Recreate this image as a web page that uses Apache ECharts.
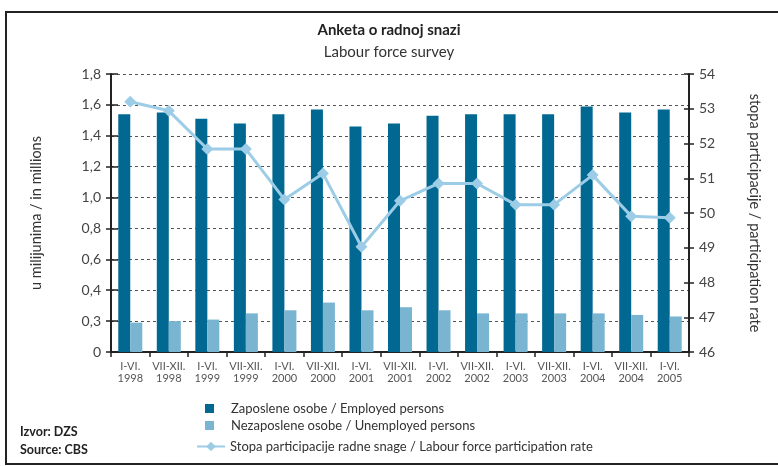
<!DOCTYPE html>
<html>
<head>
<meta charset="utf-8">
<script src="https://cdn.jsdelivr.net/npm/echarts@6/dist/echarts.min.js"></script>
<style>html,body{margin:0;padding:0;background:#fff}#c{width:778px;height:466px}</style>
</head>
<body>
<div id="c"></div>
<script>
const categories = ['I-VI.\n1998','VII-XII.\n1998','I-VI.\n1999','VII-XII.\n1999','I-VI.\n2000','VII-XII.\n2000','I-VI.\n2001','VII-XII.\n2001','I-VI.\n2002','VII-XII.\n2002','I-VI.\n2003','VII-XII.\n2003','I-VI.\n2004','VII-XII.\n2004','I-VI.\n2005'];
const employed = [1.54,1.55,1.51,1.48,1.54,1.57,1.46,1.48,1.53,1.54,1.54,1.54,1.59,1.55,1.57];
const unemployed = [0.19,0.20,0.21,0.25,0.27,0.32,0.27,0.29,0.27,0.25,0.25,0.25,0.25,0.24,0.23];
const participation = [53.2,52.94,51.84,51.84,50.39,51.14,49.03,50.35,50.85,50.85,50.24,50.24,51.09,49.91,49.86];
const leftTickLabels = ['0','0,3','0,4','0,6','0,8','1,0','1,2','1,4','1,6','1,8'];
const rightTickLabels = ['46','47','48','49','50','51','52','53','54'];
const seriesNames = ['Zaposlene osobe / Employed persons','Nezaposlene osobe / Unemployed persons','Stopa participacije radne snage / Labour force participation rate'];

const FONT = 'Lato';
const chart = echarts.init(document.getElementById('c'), null, {renderer:'canvas'});
const leftAxisBase = {type:'value', min:0, max:1.8, interval:0.2, position:'left'};
const rightAxisBase = {type:'value', min:46, max:54, interval:1, position:'right'};
chart.setOption({
  animation:false,
  textStyle:{fontFamily:FONT},
  title:[
    {text:'Anketa o radnoj snazi', left:'center', top:18, textStyle:{fontFamily:FONT, fontSize:15, fontWeight:'bold', color:'#222'}},
    {text:'Labour force survey', left:'center', top:40, textStyle:{fontFamily:FONT, fontSize:15, fontWeight:'normal', color:'#333'}}
  ],
  grid:{left:111, right:89, top:74, bottom:114, containLabel:false},
  legend:[
    {data:[{name:seriesNames[0], icon:'rect'},{name:seriesNames[1], icon:'rect'}], orient:'vertical', left:205, top:402, padding:0, itemWidth:9, itemHeight:9, itemGap:4,
     textStyle:{fontFamily:FONT, fontSize:13, color:'#333', padding:[0,0,0,12]}},
    {data:[seriesNames[2]], orient:'vertical', left:196, top:440, padding:0, itemWidth:28, itemHeight:12,
     textStyle:{fontFamily:FONT, fontSize:13, color:'#333'}}
  ],
  xAxis:{type:'category', data:categories, boundaryGap:true,
    axisLine:{lineStyle:{color:'#222', width:2}},
    axisTick:{show:true, length:5, lineStyle:{color:'#222', width:1.5}},
    axisLabel:{fontFamily:FONT, fontSize:11, color:'#555', margin:8, lineHeight:12, interval:0}
  },
  yAxis:[
    Object.assign({}, leftAxisBase, {
      name:'u milijunima / in millions', nameLocation:'middle', nameRotate:90, nameGap:67,
      nameTextStyle:{fontFamily:FONT, fontSize:14.5, color:'#333'},
      axisLine:{show:true, lineStyle:{color:'#222', width:2}},
      axisTick:{show:true, length:5, lineStyle:{color:'#222', width:1.5}},
      axisLabel:{fontFamily:FONT, fontSize:14, color:'#444', margin:10, formatter:function(v){return leftTickLabels[Math.round(v/0.2)];}},
      splitLine:{show:true, lineStyle:{color:'#555', width:1, type:[3,3]}}
    }),
    Object.assign({}, leftAxisBase, {
      axisLine:{show:false}, axisLabel:{show:false}, splitLine:{show:false},
      axisTick:{show:true, inside:true, length:7, lineStyle:{color:'#222', width:1.5}}
    }),
    Object.assign({}, rightAxisBase, {
      name:'stopa participacije / participation rate', nameLocation:'middle', nameRotate:-90, nameGap:58,
      nameTextStyle:{fontFamily:FONT, fontSize:14.5, color:'#333'},
      axisLine:{show:true, lineStyle:{color:'#222', width:2}},
      axisTick:{show:true, length:5, lineStyle:{color:'#222', width:1.5}},
      axisLabel:{fontFamily:FONT, fontSize:14, color:'#444', margin:10, formatter:function(v){return rightTickLabels[Math.round(v-46)];}},
      splitLine:{show:false}
    }),
    Object.assign({}, rightAxisBase, {
      axisLine:{show:false}, axisLabel:{show:false}, splitLine:{show:false},
      axisTick:{show:true, inside:true, length:5, lineStyle:{color:'#222', width:1.5}}
    })
  ],
  series:[
    {name:seriesNames[0], type:'bar', data:employed, yAxisIndex:0, barWidth:12, barGap:'0%', itemStyle:{color:'#006891'}},
    {name:seriesNames[1], type:'bar', data:unemployed, yAxisIndex:0, barWidth:12, barGap:'0%', itemStyle:{color:'#79b4d1'}},
    {name:seriesNames[2], type:'line', data:participation, yAxisIndex:2, symbol:'diamond', symbolSize:12,
     lineStyle:{color:'#9dcde6', width:3}, itemStyle:{color:'#9dcde6'}, z:5}
  ],
  graphic:[
    {type:'rect', shape:{x:6, y:12, width:800, height:452}, style:{fill:null, stroke:'#222', lineWidth:2}, silent:true},
    {type:'text', left:20, top:425, style:{text:'Izvor: DZS', fontFamily:FONT, fontSize:12.5, fontWeight:'bold', fill:'#222'}},
    {type:'text', left:20, top:443, style:{text:'Source: CBS', fontFamily:FONT, fontSize:12.5, fontWeight:'bold', fill:'#222'}}
  ]
});
</script>
</body>
</html>
